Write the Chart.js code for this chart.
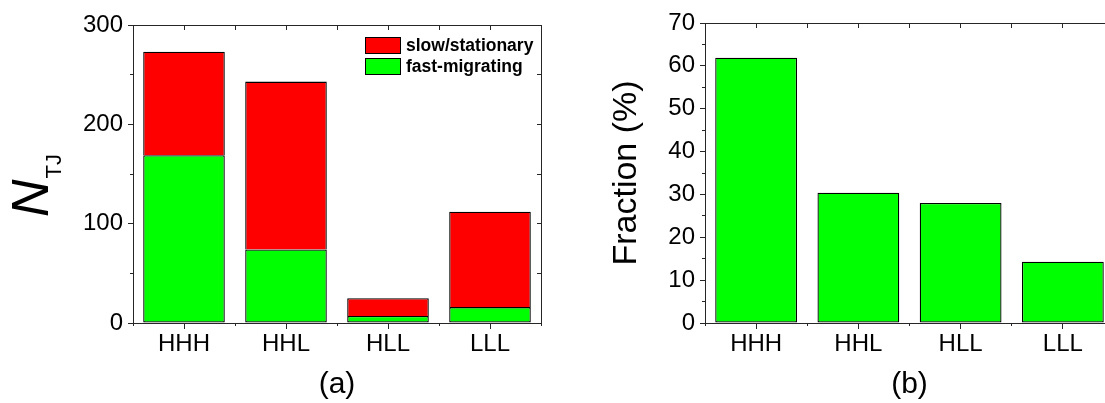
<!DOCTYPE html>
<html>
<head>
<meta charset="utf-8">
<script src="https://cdn.jsdelivr.net/npm/chart.js@4/dist/chart.umd.min.js"></script>
<style>
  html, body { margin: 0; padding: 0; background: #fff; overflow: hidden; }
  #wrap { position: relative; width: 1105px; height: 403px; overflow: hidden; background: #fff; }
  canvas { position: absolute; top: 0; }
  #chartA { left: 0; }
  #chartB { left: 575px; }
</style>
</head>
<body>
<div id="wrap">
  <canvas id="chartA" width="575" height="403" style="width:575px;height:403px"></canvas>
  <canvas id="chartB" width="580" height="403" style="width:580px;height:403px"></canvas>
</div>
<script>
// Triple-junction types
const categories = ['HHH', 'HHL', 'HLL', 'LLL'];

// Panel (a): number of triple junctions per type, stacked
const fastMigrating  = [169, 74, 7, 16];
const slowStationary = [104, 169, 18, 96];

// Panel (b): fraction of fast-migrating junctions (%)
const fractionFast = [61.9, 30.4, 28.0, 14.3];

// Axis ranges and tick steps
const countAxis    = { min: 0, max: 300, major: 100, minor: 50 };
const fractionAxis = { min: 0, max: 70,  major: 10,  minor: 5 };

const FONT = "'Liberation Sans', Arial, Helvetica, sans-serif";
const AXIS = '#262626';
const RED = '#ff0000';
const GREEN = '#00ff00';

Chart.defaults.font.family = FONT;
Chart.defaults.color = '#000';

// Legend drawn inside the plot box, top-right corner
const insideLegend = {
  id: 'insideLegend',
  afterDraw(chart, args, opts) {
    if (!opts.show) return;
    const ctx = chart.ctx;
    const area = chart.chartArea;
    const items = chart.data.datasets.slice().reverse();
    const left = area.right - opts.offsetRight;
    ctx.save();
    ctx.font = 'bold ' + opts.fontSize + 'px ' + FONT;
    ctx.textBaseline = 'middle';
    ctx.textAlign = 'left';
    items.forEach((ds, i) => {
      const y = area.top + opts.offsetTop + i * opts.rowGap;
      ctx.fillStyle = ds.backgroundColor;
      ctx.fillRect(left, y, opts.boxW, opts.boxH);
      ctx.strokeStyle = '#000';
      ctx.lineWidth = 1;
      ctx.strokeRect(left + 0.5, y + 0.5, opts.boxW - 1, opts.boxH - 1);
      ctx.fillStyle = '#000';
      ctx.fillText(ds.label, left + opts.boxW + 5, y + opts.boxH / 2 + 1);
    });
    ctx.restore();
  }
};

// Rotated y-axis title with an italic symbol and a subscript
const subscriptTitle = {
  id: 'subscriptTitle',
  afterDraw(chart, args, opts) {
    if (!opts.show) return;
    const ctx = chart.ctx;
    ctx.save();
    ctx.translate(opts.x, opts.y);
    ctx.rotate(-Math.PI / 2);
    ctx.fillStyle = '#000';
    ctx.textAlign = 'left';
    ctx.textBaseline = 'alphabetic';
    ctx.font = 'italic ' + opts.mainSize + 'px ' + FONT;
    ctx.fillText(opts.main, 0, 0);
    const w = ctx.measureText(opts.main).width;
    ctx.font = opts.subSize + 'px ' + FONT;
    ctx.fillText(opts.sub, w + opts.subGap, opts.subDrop);
    ctx.restore();
  }
};

function frameScales(range, yOpts, xOpts) {
  const tickFont = { size: 24 };
  return {
    x: Object.assign({
      type: 'category',
      position: 'bottom',
      offset: true,
      grid: { offset: false, drawOnChartArea: false, tickLength: 6, color: AXIS, tickWidth: 1 },
      border: { display: true, color: AXIS, width: 1 },
      ticks: { font: tickFont, color: '#000', padding: 1, maxRotation: 0, autoSkip: false },
    }, xOpts),
    y: Object.assign({
      position: 'left',
      min: range.min, max: range.max,
      grid: { drawOnChartArea: false, tickLength: 5, color: AXIS },
      border: { display: true, color: AXIS, width: 1 },
      ticks: { stepSize: range.major, font: tickFont, color: '#000', padding: 5 },
    }, yOpts),
    // minor ticks at category boundaries along the bottom
    xMinor: {
      axis: 'x', type: 'linear', position: { y: range.min },
      offset: false,
      min: -0.5, max: 3.5,
      grid: { offset: false, drawOnChartArea: false, tickLength: 3, color: AXIS },
      border: { display: false },
      ticks: { stepSize: 1, display: false },
    },
    // inward ticks along the top edge of the frame
    xTop: {
      axis: 'x', type: 'linear', position: { y: range.max },
      offset: false,
      min: -0.5, max: 3.5,
      grid: { offset: false, drawOnChartArea: false, tickLength: 4, color: AXIS },
      border: { display: true, color: AXIS, width: 1 },
      ticks: { stepSize: 0.5, display: false },
    },
    // minor ticks on the left axis
    yMinor: {
      axis: 'y', type: 'linear', position: { xTop: -0.5 },
      min: range.min, max: range.max,
      grid: { drawOnChartArea: false, tickLength: 3, color: AXIS },
      border: { display: false },
      ticks: { stepSize: range.minor, display: false },
    },
    // inward ticks along the right edge of the frame
    yRight: {
      axis: 'y', type: 'linear', position: { xTop: 3.5 },
      min: range.min, max: range.max,
      grid: { drawOnChartArea: false, tickLength: 4, color: AXIS },
      border: { display: true, color: AXIS, width: 1 },
      ticks: { stepSize: range.minor, display: false },
    },
  };
}

const barStyle = {
  borderColor: '#000',
  borderWidth: 1.3,
  barPercentage: 0.8,
  categoryPercentage: 1.0,
};

// Panel (a)
new Chart(document.getElementById('chartA'), {
  type: 'bar',
  data: {
    labels: categories,
    datasets: [
      Object.assign({ label: 'fast-migrating', data: fastMigrating, backgroundColor: GREEN, borderSkipped: false }, barStyle),
      Object.assign({ label: 'slow/stationary', data: slowStationary, backgroundColor: RED, borderSkipped: 'bottom' }, barStyle),
    ],
  },
  options: {
    responsive: false,
    animation: false,
    layout: { padding: { left: 0, right: 34, top: 25, bottom: 0 } },
    plugins: {
      legend: { display: false },
      tooltip: { enabled: false },
      insideLegend: { show: true, offsetRight: 176, offsetTop: 12, rowGap: 21, boxW: 36, boxH: 17, fontSize: 17.5 },
      subscriptTitle: { show: true, x: 48, y: 217, main: 'N', sub: 'TJ', mainSize: 52, subSize: 22, subGap: 1, subDrop: 13 },
    },
    scales: frameScales(countAxis,
      { stacked: true, afterFit(s) { s.width = 133; } },
      { stacked: true,
        title: { display: true, text: '(a)', font: { size: 30 }, color: '#000', padding: { top: 0, bottom: 0 } },
        afterFit(s) { s.height = 80; } }),
  },
  plugins: [insideLegend, subscriptTitle],
});

// Panel (b)
new Chart(document.getElementById('chartB'), {
  type: 'bar',
  data: {
    labels: categories,
    datasets: [
      Object.assign({ label: 'fast-migrating', data: fractionFast, backgroundColor: GREEN, borderSkipped: false }, barStyle),
    ],
  },
  options: {
    responsive: false,
    animation: false,
    layout: { padding: { left: 0, right: 41, top: 23, bottom: 0 } },
    plugins: {
      legend: { display: false },
      tooltip: { enabled: false },
    },
    scales: frameScales(fractionAxis,
      { title: { display: true, text: 'Fraction (%)', font: { size: 34 }, color: '#000', padding: { top: 31, bottom: 0 } },
        afterFit(s) { s.width = 130; } },
      { title: { display: true, text: '(b)', font: { size: 30 }, color: '#000', padding: { top: 0, bottom: 0 } },
        afterFit(s) { s.height = 80; } }),
  },
});
</script>
</body>
</html>
